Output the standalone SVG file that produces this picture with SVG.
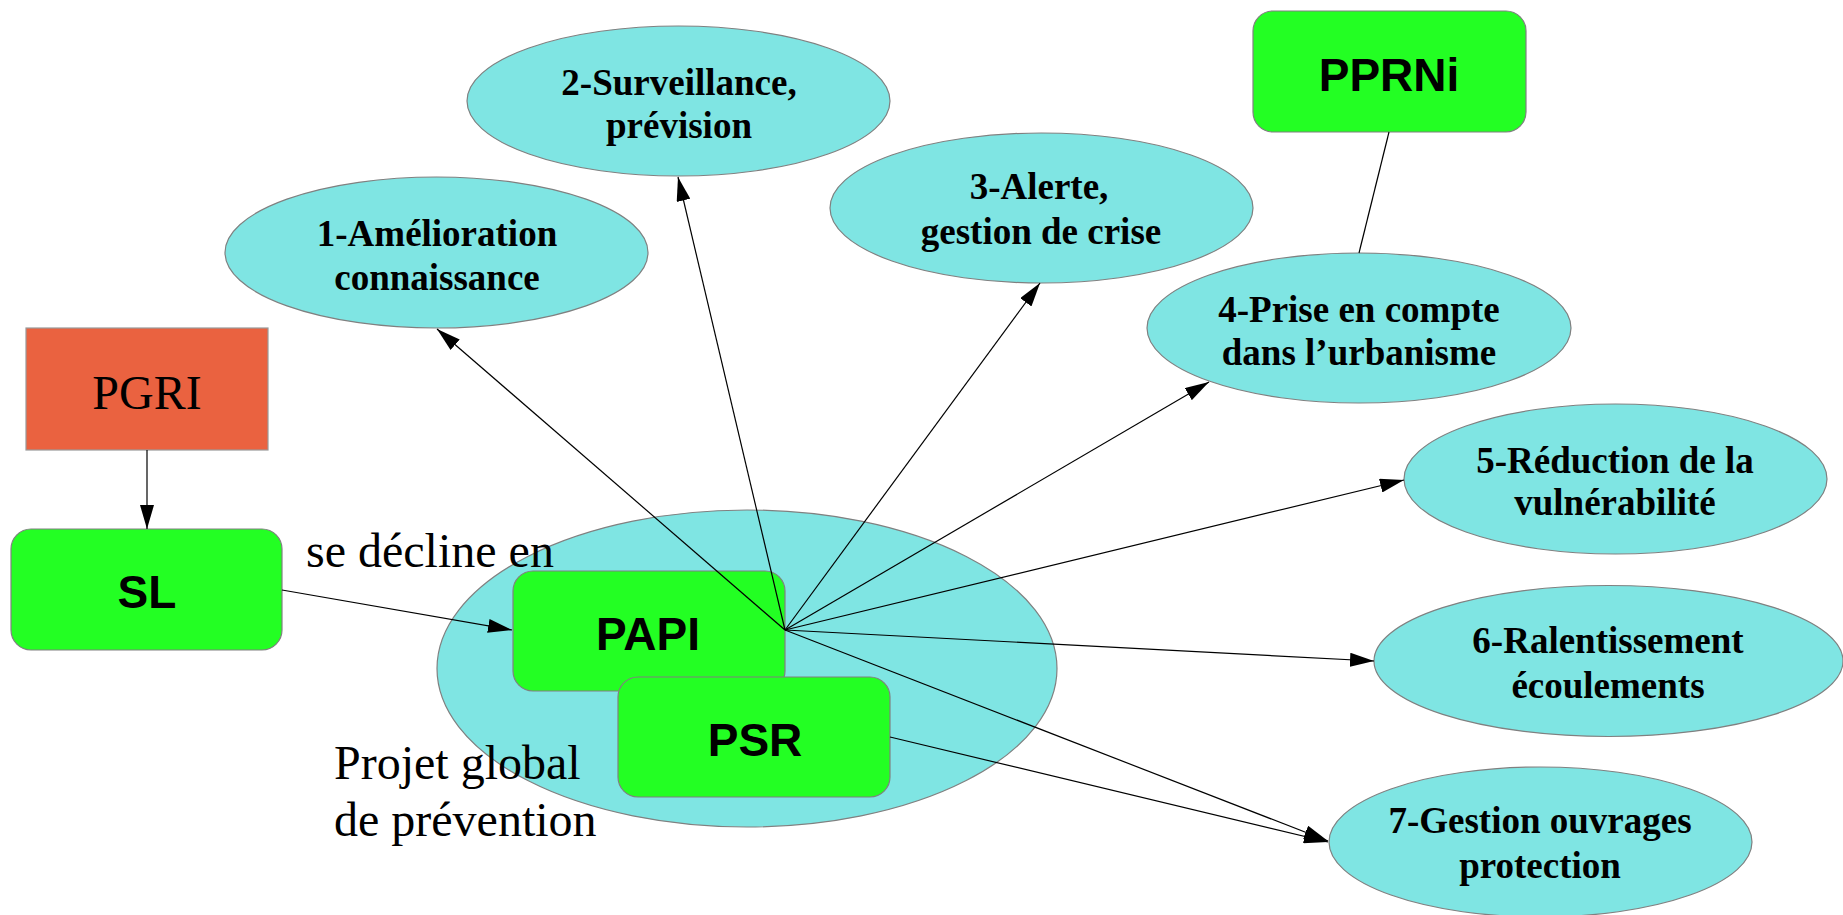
<svg xmlns="http://www.w3.org/2000/svg" width="1843" height="915" viewBox="0 0 1843 915">
  <defs>
    <marker id="arr" markerUnits="userSpaceOnUse" markerWidth="24" markerHeight="14" refX="24" refY="7" orient="auto">
      <path d="M0,0 L24,7 L0,14 z" fill="#000"/>
    </marker>
    <style>
      .ell { fill: #7fe5e3; stroke: #808080; stroke-width: 1.2; }
      .grn { fill: #23ff23; stroke: #808080; stroke-width: 1.2; }
      .red { fill: #ea6240; stroke: #999999; stroke-width: 1.2; }
      .et { font-family: "Liberation Serif", "Times New Roman", serif; font-weight: bold; font-size: 37px; fill: #000; text-anchor: middle; }
      .bt { font-family: "Liberation Sans", Arial, sans-serif; font-weight: bold; font-size: 46px; fill: #000; text-anchor: middle; }
      .st { font-family: "Liberation Serif", "Times New Roman", serif; font-size: 48px; fill: #000; }
      .ln { stroke: #000; stroke-width: 1.2; fill: none; }
      .la { stroke: #000; stroke-width: 1.2; fill: none; marker-end: url(#arr); }
    </style>
  </defs>
  <rect width="1843" height="915" fill="#ffffff"/>

  <g id="projet-global">
    <ellipse class="ell" cx="747" cy="668.5" rx="310" ry="158.5"/>
  </g>

  <g id="pgri">
    <rect class="red" x="26" y="328" width="242" height="122"/>
    <text class="st" x="147" y="409" text-anchor="middle">PGRI</text>
  </g>

  <g id="sl">
    <rect class="grn" x="11" y="529" width="271" height="121" rx="20" ry="20"/>
    <text class="bt" x="147" y="608">SL</text>
  </g>

  <g id="papi">
    <rect class="grn" x="513" y="571" width="272" height="120" rx="20" ry="20"/>
    <text class="bt" x="648" y="650">PAPI</text>
  </g>

  <g id="psr">
    <rect class="grn" x="618" y="677" width="272" height="120" rx="20" ry="20"/>
    <text class="bt" x="755" y="756">PSR</text>
  </g>

  <g id="pprni">
    <rect class="grn" x="1253" y="11" width="273" height="121" rx="20" ry="20"/>
    <text class="bt" x="1389" y="91">PPRNi</text>
  </g>

  <g id="n1">
    <ellipse class="ell" cx="436.5" cy="252.5" rx="211.5" ry="75.5"/>
    <text class="et" x="437" y="246">1-Amélioration</text>
    <text class="et" x="437" y="290">connaissance</text>
  </g>

  <g id="n2">
    <ellipse class="ell" cx="678.5" cy="101" rx="211.5" ry="75"/>
    <text class="et" x="679" y="95">2-Surveillance,</text>
    <text class="et" x="679" y="138">prévision</text>
  </g>

  <g id="n3">
    <ellipse class="ell" cx="1041.5" cy="208" rx="211.5" ry="75"/>
    <text class="et" x="1039" y="199">3-Alerte,</text>
    <text class="et" x="1041" y="244">gestion de crise</text>
  </g>

  <g id="n4">
    <ellipse class="ell" cx="1359" cy="328" rx="212" ry="75"/>
    <text class="et" x="1359" y="322">4-Prise en compte</text>
    <text class="et" x="1359" y="365">dans l’urbanisme</text>
  </g>

  <g id="n5">
    <ellipse class="ell" cx="1615.5" cy="479" rx="211.5" ry="75"/>
    <text class="et" x="1615" y="473">5-Réduction de la</text>
    <text class="et" x="1615" y="515">vulnérabilité</text>
  </g>

  <g id="n6">
    <ellipse class="ell" cx="1608.5" cy="661" rx="234.5" ry="75.5"/>
    <text class="et" x="1608" y="653">6-Ralentissement</text>
    <text class="et" x="1608" y="698">écoulements</text>
  </g>

  <g id="n7">
    <ellipse class="ell" cx="1540.5" cy="842" rx="211.5" ry="75"/>
    <text class="et" x="1540" y="833">7-Gestion ouvrages</text>
    <text class="et" x="1540" y="878">protection</text>
  </g>

  <g id="connectors">
    <line class="la" x1="147" y1="450" x2="147" y2="529"/>
    <line class="la" x1="282" y1="590" x2="512" y2="630"/>
    <line class="la" x1="785" y1="630" x2="437" y2="329"/>
    <line class="la" x1="785" y1="630" x2="678" y2="177"/>
    <line class="la" x1="785" y1="630" x2="1040" y2="283"/>
    <line class="la" x1="785" y1="630" x2="1209" y2="382"/>
    <line class="la" x1="785" y1="630" x2="1404" y2="480"/>
    <line class="la" x1="785" y1="630" x2="1374" y2="661"/>
    <line class="la" x1="785" y1="630" x2="1328" y2="841"/>
    <line class="la" x1="890" y1="737" x2="1328" y2="842"/>
    <line class="ln" x1="1389" y1="132" x2="1359" y2="253"/>
  </g>

  <g id="labels">
    <text class="st" x="306" y="567">se décline en</text>
    <text class="st" x="334" y="779">Projet global</text>
    <text class="st" x="334" y="836">de prévention</text>
  </g>
</svg>
